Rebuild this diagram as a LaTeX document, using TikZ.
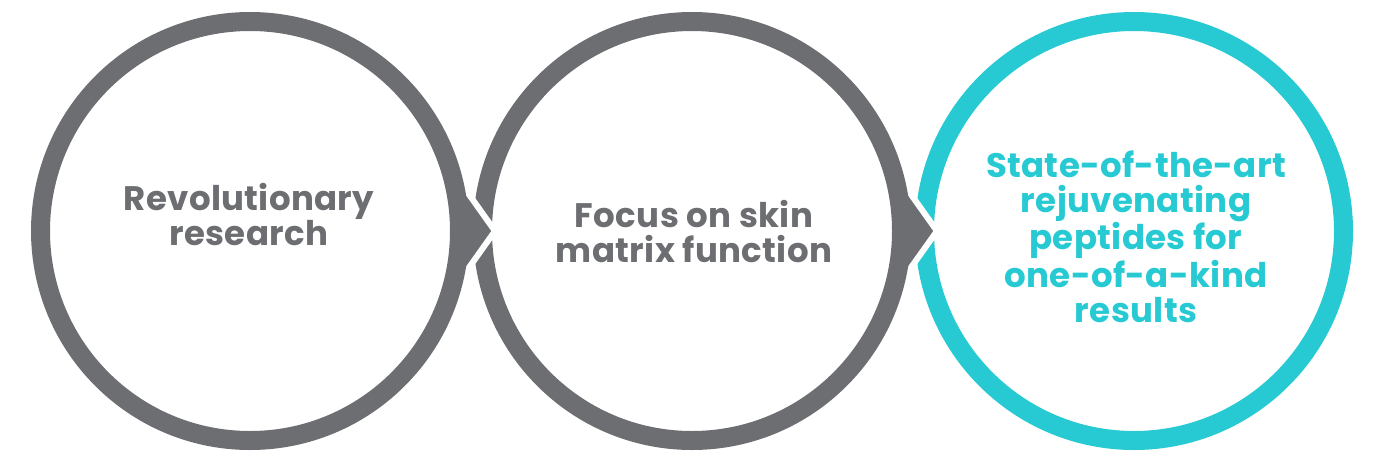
\documentclass[tikz,border=0pt]{standalone}
\usepackage{fontspec}
\setmainfont{Poppins}[LetterSpace=1]
\definecolor{ringgray}{HTML}{6D6E71}
\definecolor{ringteal}{HTML}{27CAD3}
\begin{document}
\begin{tikzpicture}[x=1pt,y=-1pt,
  ring/.style={line width=19pt, draw=#1},
  cut/.style={draw=white, line width=6pt, line join=miter},
  label/.style={font=\bfseries\fontsize{34}{35}\selectfont, align=center, inner sep=0pt, text=#1}]
\useasboundingbox (0,0) rectangle (1400,464);
\coordinate (c1) at (250,231);
\coordinate (c2) at (692,231);
\coordinate (c3) at (1134,231);
% third circle
\draw[ring=ringteal] (c3) circle[radius=209.5];
% chevron of circle 2 cutting into circle 3
\fill[ringgray] (900,179) -- (937,231) -- (900,283) -- cycle;
\draw[cut] (900,179) -- (937,231) -- (900,283);
\draw[ring=ringgray] (c2) circle[radius=209.5];
% chevron of circle 1 cutting into circle 2
\fill[ringgray] (458,179) -- (495,231) -- (458,283) -- cycle;
\draw[cut] (458,179) -- (495,231) -- (458,283);
\draw[ring=ringgray] (c1) circle[radius=209.5];
% labels
\node[label=ringgray] (t1) at (249,215) {Revolutionary\\research};
\node[label=ringgray] (t2) at (694,231.5) {Focus on skin\\matrix function};
\node[label=ringteal] (t3) at (1136,236.5) {State-of-the-art\\rejuvenating\\peptides for\\one-of-a-kind\\results};
\end{tikzpicture}
\end{document}
